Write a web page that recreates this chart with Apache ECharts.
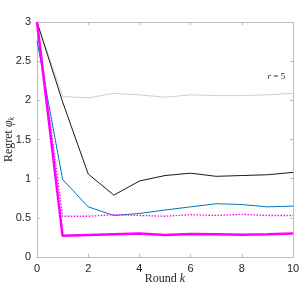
<!DOCTYPE html>
<html><head><meta charset="utf-8">
<script src="https://cdn.jsdelivr.net/npm/echarts@6/dist/echarts.min.js"></script>
<style>html,body{margin:0;padding:0;background:#fff}#c{width:305px;height:289px}</style>
</head><body><div id="c"></div>
<script>
const rounds = [0,1,2,3,4,5,6,7,8,9,10];
const grayVals = [3,2.05,2.03,2.09,2.07,2.04,2.07,2.06,2.06,2.07,2.09];
const blackVals = [3,1.98,1.06,0.79,0.97,1.04,1.07,1.03,1.04,1.05,1.08];
const blueVals = [2.76,0.99,0.64,0.53,0.555,0.6,0.64,0.68,0.67,0.64,0.65];
const dottedVals = [3,0.52,0.52,0.54,0.53,0.52,0.54,0.53,0.545,0.53,0.53];
const thickVals = [3,0.27,0.28,0.29,0.30,0.28,0.295,0.29,0.285,0.29,0.30];
const annotation = {x:9.35, y:2.3};

const chart = echarts.init(document.getElementById('c'));
const pairs = v => rounds.map((r,i)=>[r,v[i]]);
const lab = {color:'#262626', fontSize:11, fontFamily:'Liberation Sans, Arial, sans-serif'};
const axLine = {lineStyle:{color:'#bdbdbd', width:1}};
const tick = {inside:true, length:3, lineStyle:{color:'#bdbdbd'}};
chart.setOption({
  animation:false,
  grid:{left:37, right:12, top:22, bottom:32, show:false, containLabel:false, outerBoundsMode:'none'},
  xAxis:[
    {type:'value', min:0, max:10, interval:2, axisLine:{show:true,onZero:false,...axLine}, axisTick:tick, splitLine:{show:false},
     axisLabel:{...lab, margin:6}, name:'Round {i|k}', nameLocation:'middle', nameGap:16, nameMoveOverlap:false,
     nameTextStyle:{fontFamily:'Liberation Serif, serif', fontSize:12, color:'#262626', rich:{i:{fontStyle:'italic', fontFamily:'Liberation Serif, serif', fontSize:12, color:'#262626'}}}},
    {type:'value', position:'top', min:0, max:10, interval:2, axisLine:{show:true,onZero:false,...axLine}, axisTick:tick, axisLabel:{show:false}, splitLine:{show:false}}
  ],
  yAxis:[
    {type:'value', min:0, max:3, interval:0.5, axisLine:{show:true,onZero:false,...axLine}, axisTick:tick, splitLine:{show:false},
     axisLabel:{...lab, margin:6}, name:'Regret {i|φ}{s|k}', nameLocation:'middle', nameGap:21, nameRotate:90, nameMoveOverlap:false,
     nameTextStyle:{fontFamily:'Liberation Serif, serif', fontSize:12, color:'#262626',
       rich:{i:{fontStyle:'italic', fontFamily:'Liberation Serif, serif', fontSize:12, color:'#262626'},
             s:{fontStyle:'italic', fontFamily:'Liberation Serif, serif', fontSize:8, color:'#262626', verticalAlign:'bottom', padding:[6,0,0,0]}}}},
    {type:'value', position:'right', min:0, max:3, interval:0.5, axisLine:{show:true,onZero:false,...axLine}, axisTick:tick, axisLabel:{show:false}, splitLine:{show:false}}
  ],
  series:[
    {type:'line', data:pairs(grayVals), symbol:'none', lineStyle:{color:'#cfcfcf', width:1}},
    {type:'line', data:pairs(blackVals), symbol:'none', lineStyle:{color:'#1a1a1a', width:1}},
    {type:'line', data:pairs(blueVals), symbol:'none', lineStyle:{color:'#0072BD', width:1}},
    {type:'line', data:pairs(dottedVals), symbol:'none', lineStyle:{color:'#ff00ff', width:1.3, type:[1.5,1.5]}},
    {type:'line', data:pairs(thickVals), symbol:'none', lineStyle:{color:'#ff00ff', width:2.5}}
  ]
});
const p = chart.convertToPixel({xAxisIndex:0,yAxisIndex:0},[annotation.x, annotation.y]);
chart.setOption({graphic:[{type:'text', x:p[0], y:p[1], style:{text:'{i|r} = 5', fill:'#262626', font:'9px Liberation Serif, serif', align:'center', verticalAlign:'middle', rich:{i:{fontStyle:'italic', fontFamily:'Liberation Serif, serif', fontSize:9, fill:'#262626'}}}}]});
</script></body></html>
